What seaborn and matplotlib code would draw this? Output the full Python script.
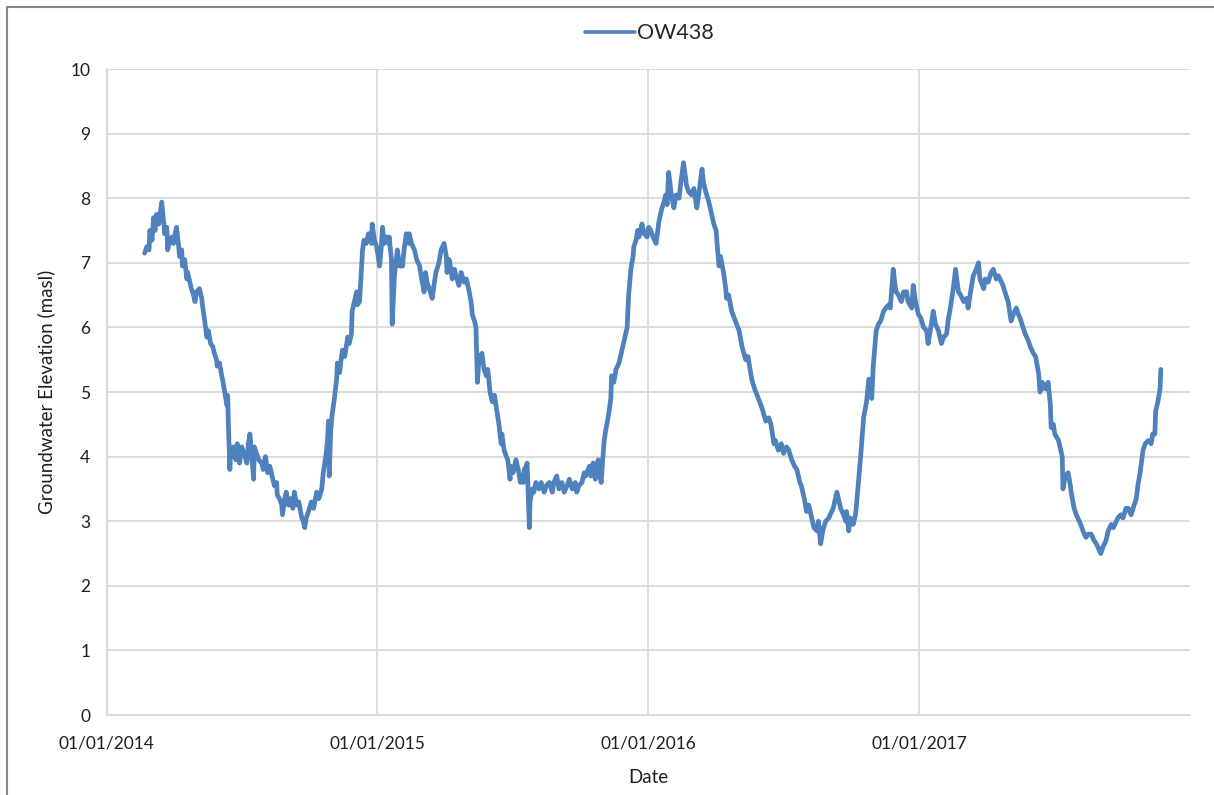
import pandas as pd
import matplotlib.pyplot as plt
import matplotlib.dates as mdates
import seaborn as sns
from matplotlib.lines import Line2D

# 读数：自 2014-01-01 起的天数，及对应地下水位 (masl)
days = [51, 54, 57, 58, 61, 63, 65, 67, 70, 74, 77, 78, 81, 82, 85, 88, 90, 93, 94, 97,
        98, 101, 102, 105, 108, 109, 112, 114, 117, 119, 121, 125, 128, 129, 132, 135, 137, 140, 143, 145,
        148, 149, 152, 155, 156, 159, 162, 163, 164, 166, 167, 170, 171, 174, 176, 179, 182, 185, 189, 191,
        193, 195, 198, 199, 202, 205, 209, 211, 214, 217, 220, 224, 226, 229, 230, 233, 236, 237, 240, 242,
        245, 248, 251, 253, 256, 259, 263, 265, 267, 269, 272, 276, 279, 283, 286, 290, 292, 296, 298, 299,
        300, 302, 304, 307, 310, 311, 314, 316, 318, 321, 325, 327, 330, 331, 334, 337, 338, 341, 343, 345,
        347, 350, 353, 357, 358, 361, 364, 366, 368, 370, 372, 374, 377, 380, 381, 384, 385, 388, 391, 392,
        395, 399, 401, 404, 407, 408, 411, 415, 418, 422, 424, 428, 430, 432, 435, 439, 442, 444, 448, 451,
        455, 458, 459, 462, 466, 469, 471, 475, 478, 482, 485, 489, 492, 493, 496, 498, 500, 502, 506, 509,
        512, 514, 517, 520, 523, 527, 529, 532, 533, 536, 539, 541, 544, 545, 548, 552, 555, 558, 559, 562,
        563, 566, 567, 568, 570, 571, 574, 576, 579, 583, 586, 590, 593, 597, 601, 603, 607, 610, 614, 617,
        621, 624, 628, 632, 634, 637, 641, 644, 646, 651, 653, 656, 659, 660, 663, 665, 667, 669, 671, 673,
        677, 680, 681, 684, 687, 691, 694, 698, 702, 704, 707, 710, 711, 714, 716, 718, 721, 722, 725, 729,
        731, 734, 737, 741, 745, 749, 752, 754, 756, 758, 761, 765, 768, 772, 774, 778, 781, 782, 785, 789,
        792, 796, 799, 803, 805, 808, 812, 815, 819, 822, 824, 826, 828, 832, 835, 836, 839, 843, 848, 853,
        857, 862, 865, 870, 874, 879, 884, 889, 893, 896, 900, 902, 906, 910, 913, 917, 920, 924, 928, 931,
        935, 937, 941, 944, 947, 951, 954, 958, 960, 963, 966, 967, 970, 974, 978, 980, 985, 987, 990, 994,
        997, 998, 1001, 1003, 1007, 1010, 1011, 1014, 1017, 1021, 1025, 1028, 1030, 1032, 1034, 1037, 1038, 1041, 1044, 1048,
        1051, 1055, 1057, 1061, 1064, 1065, 1068, 1072, 1075, 1079, 1081, 1086, 1088, 1091, 1095, 1098, 1102, 1106, 1108, 1111,
        1115, 1118, 1122, 1126, 1129, 1133, 1135, 1138, 1142, 1145, 1149, 1152, 1156, 1160, 1162, 1166, 1169, 1173, 1176, 1178,
        1183, 1185, 1189, 1193, 1196, 1200, 1203, 1207, 1209, 1213, 1216, 1220, 1223, 1227, 1230, 1232, 1236, 1239, 1243, 1246,
        1250, 1253, 1257, 1259, 1262, 1266, 1270, 1273, 1274, 1277, 1279, 1284, 1286, 1289, 1290, 1293, 1297, 1300, 1301, 1305,
        1308, 1310, 1314, 1317, 1321, 1324, 1328, 1332, 1335, 1339, 1341, 1344, 1348, 1351, 1355, 1358, 1362, 1364, 1368, 1371,
        1375, 1378, 1382, 1386, 1389, 1391, 1394, 1398, 1401, 1405, 1409, 1411, 1414, 1415, 1418, 1421, 1422]

levels = [7.15, 7.25, 7.2, 7.5, 7.35, 7.7, 7.5, 7.75, 7.6, 7.94, 7.6, 7.45, 7.55, 7.2, 7.35, 7.4, 7.3, 7.5, 7.55, 7.25,
          7.1, 7.2, 6.95, 7.05, 6.75, 6.85, 6.7, 6.6, 6.5, 6.4, 6.55, 6.6, 6.45, 6.35, 6.1, 5.85, 5.95, 5.75, 5.7, 5.6,
          5.5, 5.4, 5.45, 5.25, 5.2, 5.0, 4.8, 4.95, 4.5, 3.8, 4.15, 4.0, 4.15, 3.95, 4.2, 3.9, 4.15, 4.05, 3.9, 4.2,
          4.35, 4.1, 3.65, 4.15, 4.05, 3.95, 3.9, 3.8, 4.0, 3.75, 3.85, 3.65, 3.55, 3.6, 3.4, 3.35, 3.25, 3.1, 3.35, 3.45,
          3.25, 3.35, 3.2, 3.45, 3.25, 3.3, 3.05, 3.0, 2.9, 3.05, 3.15, 3.3, 3.2, 3.45, 3.35, 3.5, 3.75, 4.05, 4.3, 4.55,
          3.7, 4.4, 4.65, 4.9, 5.2, 5.45, 5.3, 5.5, 5.65, 5.55, 5.85, 5.75, 5.9, 6.25, 6.4, 6.55, 6.35, 6.4, 6.8, 7.2,
          7.35, 7.3, 7.45, 7.3, 7.6, 7.35, 7.25, 7.1, 6.95, 7.2, 7.55, 7.3, 7.4, 7.3, 7.4, 7.05, 6.05, 6.8, 7.1, 7.2,
          6.95, 6.95, 7.2, 7.45, 7.3, 7.45, 7.3, 7.2, 7.05, 6.95, 6.8, 6.55, 6.85, 6.7, 6.6, 6.45, 6.7, 6.85, 7.0, 7.2,
          7.3, 7.1, 6.85, 7.05, 6.75, 6.9, 6.8, 6.65, 6.85, 6.7, 6.75, 6.55, 6.35, 6.2, 6.1, 6.0, 5.15, 5.5, 5.6, 5.35,
          5.25, 5.35, 5.0, 4.85, 4.95, 4.65, 4.5, 4.2, 4.35, 4.1, 4.0, 3.95, 3.65, 3.85, 3.75, 3.95, 3.8, 3.6, 3.7, 3.6,
          3.8, 3.85, 3.9, 3.6, 2.9, 3.3, 3.5, 3.45, 3.6, 3.5, 3.6, 3.45, 3.55, 3.6, 3.45, 3.6, 3.7, 3.5, 3.6, 3.45,
          3.55, 3.65, 3.5, 3.6, 3.45, 3.55, 3.6, 3.75, 3.7, 3.85, 3.7, 3.9, 3.65, 3.85, 3.95, 3.7, 3.6, 3.95, 4.25, 4.4,
          4.65, 4.9, 5.25, 5.15, 5.35, 5.45, 5.6, 5.8, 6.0, 6.5, 6.9, 7.1, 7.25, 7.35, 7.5, 7.4, 7.55, 7.6, 7.45, 7.4,
          7.55, 7.5, 7.4, 7.3, 7.65, 7.85, 7.95, 8.05, 7.9, 8.4, 8.1, 7.85, 8.05, 8.0, 8.2, 8.55, 8.3, 8.2, 8.1, 8.05,
          8.15, 7.85, 8.1, 8.45, 8.25, 8.1, 7.95, 7.8, 7.6, 7.5, 7.2, 6.95, 7.1, 6.85, 6.6, 6.45, 6.5, 6.25, 6.1, 5.95,
          5.7, 5.5, 5.55, 5.2, 5.05, 4.9, 4.75, 4.55, 4.6, 4.5, 4.2, 4.25, 4.1, 4.2, 4.05, 4.15, 4.1, 3.95, 3.85, 3.8,
          3.6, 3.55, 3.35, 3.15, 3.25, 3.05, 2.9, 2.85, 3.0, 2.65, 2.85, 2.9, 3.0, 3.05, 3.15, 3.2, 3.45, 3.35, 3.2, 3.1,
          3.0, 3.15, 2.85, 3.05, 2.95, 3.1, 3.2, 3.6, 4.0, 4.6, 4.85, 5.2, 5.05, 4.9, 5.4, 5.8, 5.95, 6.05, 6.1, 6.25,
          6.3, 6.35, 6.3, 6.9, 6.6, 6.55, 6.5, 6.4, 6.55, 6.55, 6.4, 6.3, 6.65, 6.4, 6.2, 6.15, 6.0, 5.95, 5.75, 5.95,
          6.25, 6.05, 5.95, 5.75, 5.85, 5.9, 6.1, 6.3, 6.6, 6.9, 6.55, 6.5, 6.4, 6.45, 6.3, 6.6, 6.8, 6.9, 7.0, 6.75,
          6.6, 6.75, 6.7, 6.85, 6.9, 6.75, 6.8, 6.7, 6.65, 6.5, 6.4, 6.1, 6.2, 6.3, 6.2, 6.15, 6.0, 5.9, 5.8, 5.7,
          5.6, 5.55, 5.3, 5.0, 5.15, 5.05, 5.15, 4.8, 4.45, 4.5, 4.35, 4.25, 4.15, 4.0, 3.5, 3.7, 3.75, 3.55, 3.45, 3.2,
          3.1, 3.05, 2.95, 2.85, 2.75, 2.8, 2.8, 2.7, 2.65, 2.55, 2.5, 2.6, 2.7, 2.85, 2.95, 2.9, 3.0, 3.05, 3.1, 3.05,
          3.2, 3.2, 3.1, 3.25, 3.35, 3.55, 3.75, 4.1, 4.2, 4.25, 4.2, 4.35, 4.35, 4.7, 4.85, 5.05, 5.35]

year_ticks = ['2014-01-01', '2015-01-01', '2016-01-01', '2017-01-01']
series_name = 'OW438'

df = pd.DataFrame({'Date': pd.Timestamp('2014-01-01') + pd.to_timedelta(days, unit='D'),
                   'Level': levels})

sns.set_style('white')
plt.rcParams['font.family'] = ['Lato', 'DejaVu Sans']

fig = plt.figure(figsize=(12.14, 7.95), dpi=100)
ax = fig.add_axes([0.088, 0.1006, 0.892, 0.8126])

line_color = '#4F81BD'
sns.lineplot(data=df, x='Date', y='Level', ax=ax, color=line_color, linewidth=3.4, legend=False)

grid_color = '#D9D9D9'
text_color = '#1F1F1F'
ax.set_ylim(0, 10)
ax.set_yticks(range(0, 11))
ax.set_xlim(pd.Timestamp('2014-01-01'), pd.Timestamp('2018-01-01'))
ax.set_xticks(pd.to_datetime(year_ticks))
ax.xaxis.set_major_formatter(mdates.DateFormatter('%d/%m/%Y'))
ax.grid(True, color=grid_color, linewidth=1.3)
ax.set_axisbelow(True)
for side in ['top', 'right']:
    ax.spines[side].set_visible(False)
for side in ['left', 'bottom']:
    ax.spines[side].set_color(grid_color)
    ax.spines[side].set_linewidth(1.5)
ax.tick_params(axis='both', length=0, labelsize=12.5, colors=text_color)
ax.tick_params(axis='x', pad=15)
ax.tick_params(axis='y', pad=12)

ax.set_xlabel('Date', fontsize=13.5, color=text_color, labelpad=12)
ax.set_ylabel('Groundwater Elevation (masl)', fontsize=13.5, color=text_color, labelpad=11)

handle = Line2D([], [], color=line_color, linewidth=2.6)
fig.legend([handle], [series_name], loc='center', bbox_to_anchor=(0.535, 0.958),
           frameon=False, fontsize=15.5, handlelength=2.3, handletextpad=0.1)

# 外框
fig.add_artist(Line2D([0.006, 0.006], [0, 0.991], transform=fig.transFigure, color='#888888', linewidth=1.5))
fig.add_artist(Line2D([0.006, 1.0], [0.991, 0.991], transform=fig.transFigure, color='#888888', linewidth=1.5))

fig.savefig('out.png', dpi=100)
